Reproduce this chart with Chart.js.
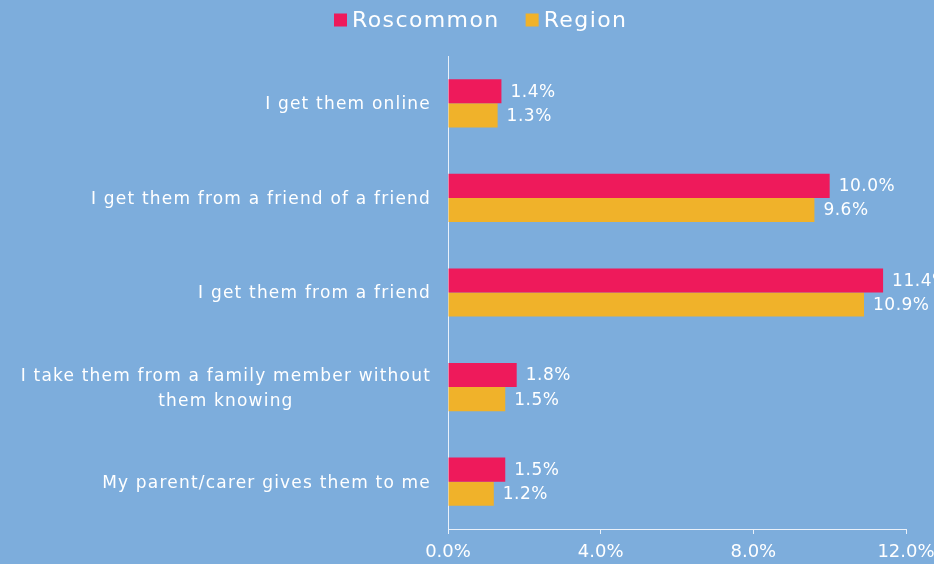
<!DOCTYPE html>
<html>
<head>
<meta charset="utf-8">
<script src="https://cdn.jsdelivr.net/npm/chart.js@4/dist/chart.umd.min.js"></script>
<style>
html,body{margin:0;padding:0;background:#7DADDC;}
#wrap{width:934px;height:564px;}
</style>
</head>
<body>
<div id="wrap"><canvas id="c" width="934" height="564"></canvas></div>
<script>
const categories = [
  "I get them online",
  "I get them from a friend of a friend",
  "I get them from a friend",
  ["I take them from a family member without", "them knowing"],
  "My parent/carer gives them to me"
];
const roscommon = [1.4, 10.0, 11.4, 1.8, 1.5];
const region = [1.3, 9.6, 10.9, 1.5, 1.2];
const xTicks = [0, 4, 8, 12];
const seriesNames = ["Roscommon", "Region"];
const seriesColors = ["#EE1A5B", "#F0B22A"];

const FONT = "'DejaVu Sans', sans-serif";

const labelPlugin = {
  id: 'barLabels',
  afterDatasetsDraw(chart) {
    const ctx = chart.ctx;
    ctx.save();
    ctx.fillStyle = '#ffffff';
    ctx.font = "17px " + FONT;
    ctx.letterSpacing = '0.5px';
    ctx.textBaseline = 'middle';
    ctx.textAlign = 'left';
    chart.data.datasets.forEach((ds, di) => {
      const meta = chart.getDatasetMeta(di);
      meta.data.forEach((bar, i) => {
        ctx.fillText(ds.data[i].toFixed(1) + '%', bar.x + 9, bar.y + 1);
      });
    });
    ctx.restore();
  }
};

const yLabelPlugin = {
  id: 'yLabels',
  afterDraw(chart) {
    const ctx = chart.ctx;
    const ys = chart.scales.y;
    ctx.save();
    ctx.fillStyle = '#ffffff';
    ctx.font = "17px " + FONT;
    ctx.letterSpacing = '1.2px';
    ctx.textBaseline = 'middle';
    ctx.textAlign = 'center';
    const right = 431, lh = 25;
    chart.data.labels.forEach((lab, i) => {
      const lines = Array.isArray(lab) ? lab : [lab];
      const maxW = Math.max(...lines.map(l => ctx.measureText(l).width));
      const cx = right - maxW / 2;
      const cy = ys.getPixelForValue(i) + 1.5;
      lines.forEach((l, k) => {
        ctx.fillText(l, cx, cy + (k - (lines.length - 1) / 2) * lh);
      });
    });
    ctx.restore();
  }
};

const legendPlugin = {
  id: 'topLegend',
  afterDraw(chart) {
    const ctx = chart.ctx;
    ctx.save();
    ctx.font = "22px " + FONT;
    ctx.letterSpacing = '1.4px';
    ctx.textBaseline = 'middle';
    ctx.textAlign = 'left';
    const box = 13, gapBoxText = 5, gapItems = 26;
    let x = 334;
    const cy = 21;
    chart.data.datasets.forEach((ds, i) => {
      ctx.fillStyle = ds.backgroundColor;
      ctx.fillRect(x, cy - box / 2 - 1, box, box);
      x += box + gapBoxText;
      ctx.fillStyle = '#ffffff';
      ctx.fillText(ds.label, x, cy);
      x += ctx.measureText(ds.label).width + gapItems;
    });
    ctx.restore();
  }
};

new Chart(document.getElementById('c'), {
  type: 'bar',
  data: {
    labels: categories,
    datasets: [
      { label: seriesNames[0], data: roscommon, backgroundColor: seriesColors[0], borderWidth: 0 },
      { label: seriesNames[1], data: region, backgroundColor: seriesColors[1], borderWidth: 0 }
    ]
  },
  options: {
    indexAxis: 'y',
    responsive: false,
    animation: false,
    devicePixelRatio: 1,
    layout: { padding: { top: 56, right: 28, bottom: 0, left: 0 } },
    datasets: { bar: { categoryPercentage: 0.51, barPercentage: 1.0 } },
    plugins: {
      legend: { display: false },
      tooltip: { enabled: false }
    },
    scales: {
      x: {
        min: 0, max: 12,
        afterBuildTicks(scale) { scale.ticks = xTicks.map(v => ({ value: v })); },
        afterFit(scale) { scale.height = 35; scale.paddingRight = 0; scale.paddingLeft = 0; },
        ticks: {
          color: '#ffffff',
          font: { size: 18, family: FONT },
          padding: 8,
          callback: v => Number(v).toFixed(1) + '%'
        },
        grid: { display: true, drawOnChartArea: false, drawTicks: true, tickLength: 5, color: '#EAF1FA', lineWidth: 1 },
        border: { display: true, color: '#EAF1FA', width: 1 }
      },
      y: {
        afterFit(scale) { scale.width = 448; },
        ticks: { display: false },
        grid: { display: false, drawTicks: false },
        border: { display: true, color: '#EAF1FA', width: 1 }
      }
    }
  },
  plugins: [labelPlugin, yLabelPlugin, legendPlugin]
});
</script>
</body>
</html>
